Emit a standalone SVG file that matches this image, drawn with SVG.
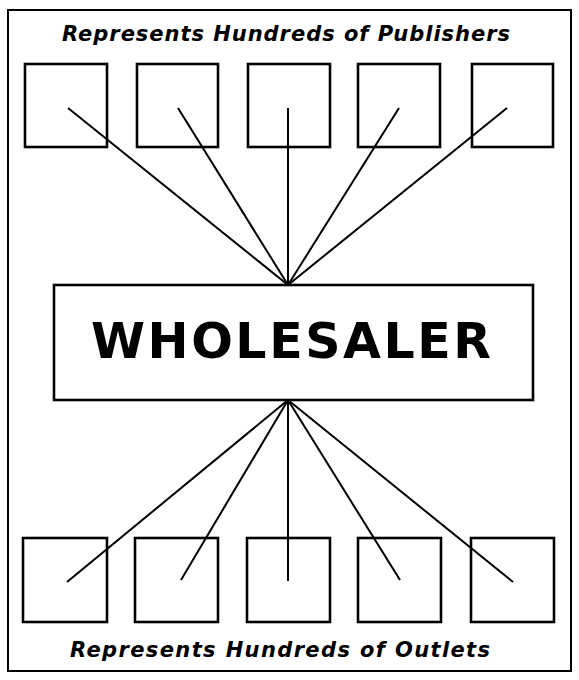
<svg xmlns="http://www.w3.org/2000/svg" width="579" height="680" viewBox="0 0 579 680">
<style>
.frame{fill:none;stroke:#000;stroke-width:2}
.box{fill:#fff;stroke:#000;stroke-width:2.6}
.ln{stroke:#000;stroke-width:2;fill:none}
.lbl{font-family:"DejaVu Sans","Liberation Sans",sans-serif;font-weight:bold;font-style:italic;font-size:21px;fill:#000}
.big{font-family:"DejaVu Sans","Liberation Sans",sans-serif;font-weight:bold;font-size:49px;fill:#000}
</style>
<rect x="0" y="0" width="579" height="680" fill="#fff"/>
<rect class="frame" x="8" y="10" width="563" height="661"/>
<text class="lbl" x="62" y="41" textLength="448" lengthAdjust="spacing">Represents Hundreds of Publishers</text>
<g id="pub1"><rect class="box" x="25" y="64" width="82" height="83"/></g>
<g id="pub2"><rect class="box" x="137" y="64" width="81" height="83"/></g>
<g id="pub3"><rect class="box" x="248" y="64" width="82" height="83"/></g>
<g id="pub4"><rect class="box" x="358" y="64" width="82" height="83"/></g>
<g id="pub5"><rect class="box" x="472" y="64" width="81" height="83"/></g>
<g id="out1"><rect class="box" x="23" y="538" width="84" height="84"/></g>
<g id="out2"><rect class="box" x="135" y="538" width="83" height="84"/></g>
<g id="out3"><rect class="box" x="247" y="538" width="83" height="84"/></g>
<g id="out4"><rect class="box" x="358" y="538" width="83" height="84"/></g>
<g id="out5"><rect class="box" x="471" y="538" width="83" height="84"/></g>
<g id="connectors">
<line class="ln" x1="68" y1="108" x2="288" y2="285"/>
<line class="ln" x1="178" y1="108" x2="288" y2="285"/>
<line class="ln" x1="288" y1="108" x2="288" y2="285"/>
<line class="ln" x1="399" y1="108" x2="288" y2="285"/>
<line class="ln" x1="507" y1="108" x2="288" y2="285"/>
<line class="ln" x1="288" y1="400" x2="67" y2="582"/>
<line class="ln" x1="288" y1="400" x2="181" y2="580"/>
<line class="ln" x1="288" y1="400" x2="288" y2="581"/>
<line class="ln" x1="288" y1="400" x2="400" y2="580"/>
<line class="ln" x1="288" y1="400" x2="513" y2="582"/>
</g>
<g id="wholesaler">
<rect class="box" x="54" y="285" width="479" height="115"/>
<text class="big" x="91" y="358" textLength="400" lengthAdjust="spacing">WHOLESALER</text>
</g>
<text class="lbl" x="70" y="657" textLength="420" lengthAdjust="spacing">Represents Hundreds of Outlets</text>
</svg>
